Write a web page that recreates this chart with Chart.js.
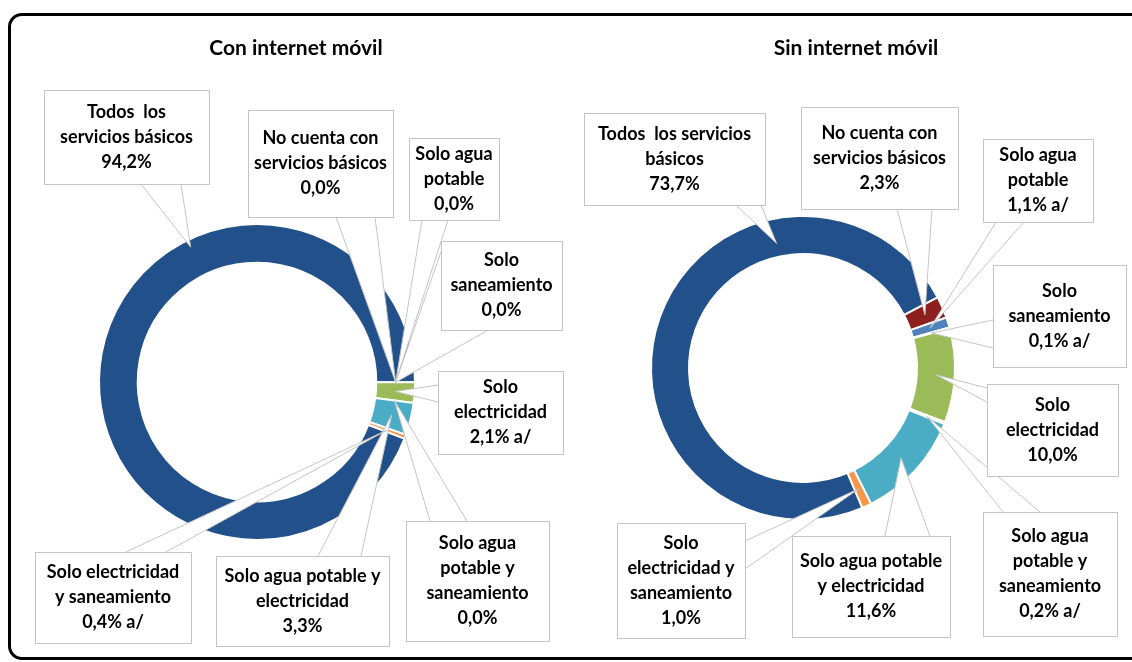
<!DOCTYPE html>
<html>
<head>
<meta charset="utf-8">
<script src="https://cdn.jsdelivr.net/npm/chart.js@4.4.1/dist/chart.umd.min.js"></script>
<style>
  html, body { margin: 0; padding: 0; background: #fff; overflow: hidden; }
  #wrap { position: relative; width: 1132px; height: 662px; overflow: hidden; }
  #frame { position: absolute; left: 8px; top: 13px; width: 1150px; height: 641px;
           border: 3px solid #000; border-radius: 14px; }
  canvas { position: absolute; top: 0; }
</style>
</head>
<body>
<div id="wrap">
  <div id="frame"></div>
  <canvas id="conChart" width="566" height="662" style="left:0"></canvas>
  <canvas id="sinChart" width="566" height="662" style="left:566px"></canvas>
</div>
<script>
const categories = [
  'Todos  los servicios básicos',
  'No cuenta con servicios básicos',
  'Solo agua potable',
  'Solo saneamiento',
  'Solo electricidad',
  'Solo agua potable y saneamiento',
  'Solo agua potable y electricidad',
  'Solo electricidad y saneamiento'
];
const conInternet = [94.2, 0.0, 0.0, 0.0, 2.1, 0.0, 3.3, 0.4];
const sinInternet = [73.7, 2.3, 1.1, 0.1, 10.0, 0.2, 11.6, 1.0];
const conNotes = ['', '', '', '', ' a/', '', '', ' a/'];
const sinNotes = ['', '', ' a/', ' a/', '', ' a/', '', ''];

const colors = ['#21508a', '#8e1f1f', '#4f81bd', '#8064a2', '#9bbb59', '#7f6aa6', '#4bacc6', '#f79646'];

// callout boxes: page coords [x1, y1, x2, y2], tail base points, text lines
const conBoxes = [
  { box: [44, 90, 209, 184], base: [141, 184, 181, 184], t: 0.657, d: 0.8, lines: ['Todos  los', 'servicios básicos'] },
  { box: [248, 110, 393, 217], base: [336, 217, 375, 217], lines: ['No cuenta con', 'servicios básicos'] },
  { box: [409, 138, 499, 220], base: [422, 220, 448, 220], lines: ['Solo agua', 'potable'] },
  { box: [441, 241, 562, 330], base: [443, 246, 490, 329], lines: ['Solo', 'saneamiento'] },
  { box: [438, 371, 563, 454], base: [438, 385, 438, 402], lines: ['Solo', 'electricidad'] },
  { box: [406, 521, 549, 641], base: [430, 521, 467, 521], lines: ['Solo agua', 'potable y', 'saneamiento'] },
  { box: [216, 556, 389, 646], base: [318, 556, 361, 556], lines: ['Solo agua potable y', 'electricidad'] },
  { box: [35, 552, 191, 643], base: [126, 552, 166, 552], lines: ['Solo electricidad', 'y saneamiento'] }
];
const sinBoxes = [
  { box: [584, 113, 765, 205], base: [736, 205, 761, 205], t: 0.72, d: 0.35, lines: ['Todos  los servicios', 'básicos'] },
  { box: [801, 107, 958, 209], base: [897, 209, 932, 209], lines: ['No cuenta con', 'servicios básicos'] },
  { box: [983, 139, 1093, 222], base: [996, 222, 1024, 222], lines: ['Solo agua', 'potable'] },
  { box: [993, 265, 1126, 367], base: [993, 320, 993, 348], lines: ['Solo', 'saneamiento'] },
  { box: [987, 384, 1118, 476], base: [987, 388, 987, 402], lines: ['Solo', 'electricidad'] },
  { box: [983, 512, 1117, 636], base: [1003, 512, 1040, 512], lines: ['Solo agua', 'potable y', 'saneamiento'] },
  { box: [792, 536, 950, 637], base: [885, 536, 930, 536], lines: ['Solo agua potable', 'y electricidad'] },
  { box: [617, 523, 745, 638], base: [745, 541, 745, 569], lines: ['Solo', 'electricidad y', 'saneamiento'] }
];

const fmt = (v, note) => v.toFixed(1).replace('.', ',') + '%' + note;

const calloutPlugin = {
  id: 'callouts',
  afterDatasetsDraw(chart, args, opts) {
    const ctx = chart.ctx;
    const arcs = chart.getDatasetMeta(0).data;
    const values = chart.data.datasets[0].data;
    const ox = opts.offsetX;
    ctx.save();
    ctx.lineWidth = 1;
    ctx.strokeStyle = '#c4c4c4';
    opts.boxes.forEach((b, i) => {
      const p = arcs[i].getProps(['x', 'y', 'startAngle', 'endAngle', 'innerRadius', 'outerRadius']);
      const t = b.t ?? 0.5, d = b.d ?? 0.5;
      const ang = p.startAngle + (p.endAngle - p.startAngle) * t;
      const rad = p.innerRadius + (p.outerRadius - p.innerRadius) * d;
      const tx = p.x + Math.cos(ang) * rad;
      const ty = p.y + Math.sin(ang) * rad;
      const [x1, y1, x2, y2] = b.base;
      ctx.beginPath();
      ctx.moveTo(x1 - ox, y1);
      ctx.lineTo(tx, ty);
      ctx.lineTo(x2 - ox, y2);
      ctx.closePath();
      ctx.fillStyle = '#fff';
      ctx.fill();
      ctx.beginPath();
      ctx.moveTo(x1 - ox, y1);
      ctx.lineTo(tx, ty);
      ctx.lineTo(x2 - ox, y2);
      ctx.stroke();
    });
    opts.boxes.forEach((b, i) => {
      const [l, t, r, bt] = b.box;
      ctx.fillStyle = '#fff';
      ctx.fillRect(l - ox + 0.5, t + 0.5, r - l, bt - t);
      ctx.strokeRect(l - ox + 0.5, t + 0.5, r - l, bt - t);
      const lines = b.lines.concat([fmt(values[i], opts.notes[i])]);
      ctx.fillStyle = '#000';
      ctx.font = 'bold 18px Lato';
      ctx.textAlign = 'center';
      ctx.textBaseline = 'middle';
      const cx = (l + r) / 2 - ox;
      const cy = (t + bt) / 2;
      const lh = 25;
      lines.forEach((s, k) => {
        ctx.fillText(s, cx, cy + (k - (lines.length - 1) / 2) * lh);
      });
    });
    ctx.font = 'bold 21px Lato';
    ctx.fillStyle = '#000';
    ctx.textAlign = 'center';
    ctx.textBaseline = 'middle';
    ctx.fillText(opts.title, opts.titleX - ox, 48);
    ctx.restore();
  }
};

function makeChart(id, values, notes, boxes, opts) {
  return new Chart(document.getElementById(id), {
    type: 'doughnut',
    data: {
      labels: categories,
      datasets: [{
        data: values,
        backgroundColor: colors,
        borderColor: '#ffffff',
        borderWidth: 2
      }]
    },
    options: {
      responsive: false,
      devicePixelRatio: 1,
      animation: false,
      rotation: opts.rotation,
      radius: opts.radius,
      cutout: opts.cutout,
      layout: { padding: opts.padding },
      plugins: {
        legend: { display: false },
        tooltip: { enabled: false },
        callouts: { boxes: boxes, notes: notes, offsetX: opts.offsetX, title: opts.title, titleX: opts.titleX }
      }
    },
    plugins: [calloutPlugin]
  });
}

makeChart('conChart', conInternet, conNotes, conBoxes, {
  rotation: 111, radius: 158, cutout: '75.5%',
  padding: { left: 57, right: 109, top: 182, bottom: 80 },
  offsetX: 0, title: 'Con internet móvil', titleX: 296
});
makeChart('sinChart', sinInternet, sinNotes, sinBoxes, {
  rotation: 157, radius: 152, cutout: '75%',
  padding: { left: 37, right: 129, top: 168, bottom: 94 },
  offsetX: 566, title: 'Sin internet móvil', titleX: 856
});
</script>
</body>
</html>
